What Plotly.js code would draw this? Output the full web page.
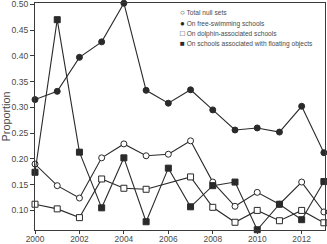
<!DOCTYPE html>
<html>
<head>
<meta charset="utf-8">
<script src="https://cdn.plot.ly/plotly-3.0.1.min.js"></script>
<style>
  html, body { margin: 0; padding: 0; background: #ffffff; }
  #chart { width: 327px; height: 244px; }
</style>
</head>
<body>
<div id="chart"></div>
<script>
// ---- data ----
var years = [2000, 2001, 2002, 2003, 2004, 2005, 2006, 2007, 2008, 2009, 2010, 2011, 2012, 2013];
var totalNullSets = [0.190, 0.148, 0.124, 0.202, 0.229, 0.206, 0.209, 0.235, 0.155, 0.108, 0.135, 0.112, 0.155, 0.097];
var freeSwimming  = [0.315, 0.331, 0.397, 0.427, 0.502, 0.333, 0.308, 0.334, 0.295, 0.256, 0.260, 0.252, 0.302, 0.212];
var dolphinAssoc  = [0.112, 0.103, 0.086, 0.161, 0.143, 0.141, null, 0.165, 0.106, 0.077, 0.100, 0.080, 0.100, 0.076];
var floatingObj   = [0.174, 0.470, 0.213, 0.105, 0.202, 0.078, 0.182, 0.107, 0.148, 0.155, 0.0625, 0.112, 0.082, 0.156];
var seriesNames = ['Total null sets', 'On free-swimming schools', 'On dolphin-associated schools', 'On schools associated with floating objects'];
var legendGlyphs = ['\u25CB', '\u25CF', '\u25A1', '\u25A0'];
var xTickVals = [2000, 2002, 2004, 2006, 2008, 2010, 2012];
var yTickVals = [0.10, 0.15, 0.20, 0.25, 0.30, 0.35, 0.40, 0.45, 0.50];

// ---- styling ----
var lineCol = '#2a2a2a';
var textCol = '#4a4a4a';
var FONT = 'Liberation Sans, Arial, sans-serif';

function trace(y, name, symbol, fill) {
  return {
    x: years, y: y, name: name, type: 'scatter', mode: 'lines+markers',
    connectgaps: true, cliponaxis: false, showlegend: false,
    line: { color: lineCol, width: 1.1 },
    marker: { symbol: symbol, size: 6, color: fill, line: { color: lineCol, width: 1 } }
  };
}

var data = [
  trace(totalNullSets, seriesNames[0], 'circle', '#ffffff'),
  trace(freeSwimming, seriesNames[1], 'circle', lineCol),
  trace(dolphinAssoc, seriesNames[2], 'square', '#ffffff'),
  trace(floatingObj, seriesNames[3], 'square', lineCol)
];

// plot area in pixels
var W = 327, H = 244, mL = 35, mR = 2, mT = 3, mB = 14;
var pw = W - mL - mR, ph = H - mT - mB;
function pxX(px) { return (px - mL) / pw; }
function pxY(py) { return (H - mB - py) / ph; }

var legendRowsY = [12.3, 23.0, 33.3, 43.5];
var annotations = seriesNames.map(function (nm, i) {
  return {
    xref: 'paper', yref: 'paper', x: pxX(178), y: pxY(legendRowsY[i]),
    xanchor: 'left', yanchor: 'middle', showarrow: false,
    text: '<span style="font-size:8px;color:#2a2a2a">' + legendGlyphs[i] + '</span> ' + nm,
    font: { family: FONT, size: 6.6, color: textCol }
  };
});

var layout = {
  width: W, height: H,
  margin: { l: mL, r: mR, t: mT, b: mB, pad: 0 },
  paper_bgcolor: '#ffffff', plot_bgcolor: '#ffffff',
  showlegend: false,
  font: { family: FONT, color: textCol },
  xaxis: {
    range: [2000, 2013.05], tickvals: xTickVals, ticktext: xTickVals.map(String),
    showgrid: false, zeroline: false,
    showline: true, linecolor: '#3a3a3a', linewidth: 1, mirror: true,
    ticks: 'outside', ticklen: 3, tickcolor: '#3a3a3a', tickwidth: 1,
    ticklabeloverflow: 'allow', ticklabelstandoff: -2,
    tickfont: { family: FONT, size: 8.4, color: textCol }
  },
  yaxis: {
    range: [0.062, 0.5024], tickvals: yTickVals, ticktext: yTickVals.map(function (v) { return v.toFixed(2); }),
    showgrid: false, zeroline: false,
    showline: true, linecolor: '#3a3a3a', linewidth: 1, mirror: true,
    ticks: 'outside', ticklen: 4, tickcolor: '#3a3a3a', tickwidth: 1,
    ticklabeloverflow: 'allow',
    tickfont: { family: FONT, size: 8.6, color: textCol },
    title: { text: 'Proportion', font: { family: FONT, size: 10.8, color: textCol }, standoff: 4 }
  },
  annotations: annotations
};

Plotly.newPlot('chart', data, layout, { staticPlot: true, displayModeBar: false });
</script>
</body>
</html>
